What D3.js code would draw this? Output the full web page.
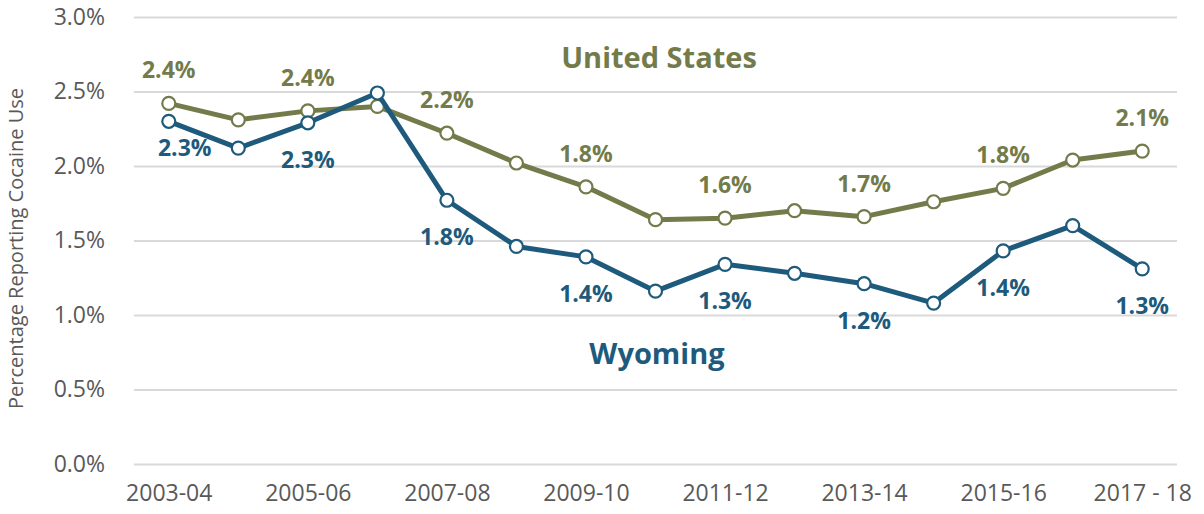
<!DOCTYPE html>
<html>
<head>
  <meta charset="utf-8">
  <style>
    body { margin: 0; background: #fff; }
    text { font-family: "Open Sans", sans-serif; }
    .grid line { stroke: #d9d9d9; stroke-width: 2; }
    .grid path { display: none; }
    .axis path, .axis line { display: none; }
    .axis text { fill: #595959; font-size: 23px; font-family: "Open Sans", sans-serif; }
    .line { fill: none; stroke-width: 5; stroke-linejoin: round; }
    .dot { fill: #fff; stroke-width: 2.2; }
    .lbl { font-size: 23px; font-weight: bold; text-anchor: middle; }
    .title { font-size: 29px; font-weight: bold; text-anchor: middle; }
  </style>
  <script src="https://d3js.org/d3.v7.min.js"></script>
</head>
<body>
<script>
  var years = ['2003-04','2004-05','2005-06','2006-07','2007-08','2008-09','2009-10','2010-11',
               '2011-12','2012-13','2013-14','2014-15','2015-16','2016-17','2017 - 18'];
  var unitedStates = [2.42, 2.31, 2.37, 2.40, 2.22, 2.02, 1.86, 1.64, 1.65, 1.70, 1.66, 1.76, 1.85, 2.04, 2.10];
  var wyoming      = [2.30, 2.12, 2.29, 2.49, 1.77, 1.46, 1.39, 1.16, 1.34, 1.28, 1.21, 1.08, 1.43, 1.60, 1.31];
  var yTicks = [0, 0.5, 1, 1.5, 2, 2.5, 3];
  // labels shown on every other point
  var usLabels = ['2.4%', null, '2.4%', null, '2.2%', null, '1.8%', null, '1.6%', null, '1.7%', null, '1.8%', null, '2.1%'];
  var wyLabels = ['2.3%', null, '2.3%', null, '1.8%', null, '1.4%', null, '1.3%', null, '1.2%', null, '1.4%', null, '1.3%'];

  var width = 1204, height = 514;
  var plot = { left: 134, right: 1177, top: 17, bottom: 464 };

  var svg = d3.select("body").append("svg")
      .attr("width", width)
      .attr("height", height);

  var x = d3.scalePoint()
      .domain(years)
      .range([plot.left, plot.right])
      .padding(0.5);

  var y = d3.scaleLinear()
      .domain([0, 3])
      .range([plot.bottom, plot.top]);

  // gridlines
  svg.append("g")
      .attr("class", "grid")
      .attr("transform", "translate(" + plot.left + ",0)")
      .call(d3.axisLeft(y).tickValues(yTicks).tickSize(-(plot.right - plot.left)).tickFormat(""));

  // y axis
  svg.append("g")
      .attr("class", "axis")
      .attr("transform", "translate(" + (plot.left - 26) + ",0)")
      .call(d3.axisLeft(y).tickValues(yTicks).tickSize(0).tickFormat(function(d) { return d.toFixed(1) + "%"; }));

  // x axis
  svg.append("g")
      .attr("class", "axis")
      .attr("transform", "translate(0," + (plot.bottom + 18) + ")")
      .call(d3.axisBottom(x).tickSize(0).tickValues(years.filter(function(d, i) { return i % 2 === 0; })))
      .selectAll("text").attr("dy", "0.7em");

  // y title
  svg.append("text")
      .attr("transform", "translate(23," + ((plot.top + plot.bottom) / 2 + 8) + ") rotate(-90)")
      .attr("text-anchor", "middle")
      .attr("fill", "#595959")
      .attr("font-size", "20px")
      .text("Percentage Reporting Cocaine Use");

  var series = [
    { name: "United States", values: unitedStates, labels: usLabels, color: "#737b4b", dy: -25, title: [659, 58] },
    { name: "Wyoming", values: wyoming, labels: wyLabels, color: "#1e5a7c", dy: 45, title: [657, 354] }
  ];

  var line = d3.line()
      .x(function(d, i) { return x(years[i]); })
      .y(function(d) { return y(d); });

  series.forEach(function(s) {
    var pts = s.values.map(function(v, i) { return { year: years[i], value: v, label: s.labels[i], i: i }; });

    svg.append("path")
        .attr("class", "line")
        .attr("stroke", s.color)
        .attr("d", line(s.values));

    svg.selectAll(null)
        .data(pts)
        .enter().append("circle")
        .attr("class", "dot")
        .attr("stroke", s.color)
        .attr("cx", function(d) { return x(d.year); })
        .attr("cy", function(d) { return y(d.value); })
        .attr("r", 6.5);

    svg.selectAll(null)
        .data(pts.filter(function(d) { return d.label; }))
        .enter().append("text")
        .attr("class", "lbl")
        .attr("fill", s.color)
        // first Wyoming label sits nudged right/up, clear of the line
        .attr("x", function(d) { return x(d.year) + (s.dy > 0 && d.i === 0 ? 16 : 0); })
        .attr("y", function(d) { return y(d.value) + s.dy - (s.dy > 0 && d.i === 0 ? 10 : 0); })
        .text(function(d) { return d.label; });

    svg.append("text")
        .attr("class", "title")
        .attr("fill", s.color)
        .attr("x", s.title[0])
        .attr("y", s.title[1] + 10)
        .text(s.name);
  });
</script>
</body>
</html>
